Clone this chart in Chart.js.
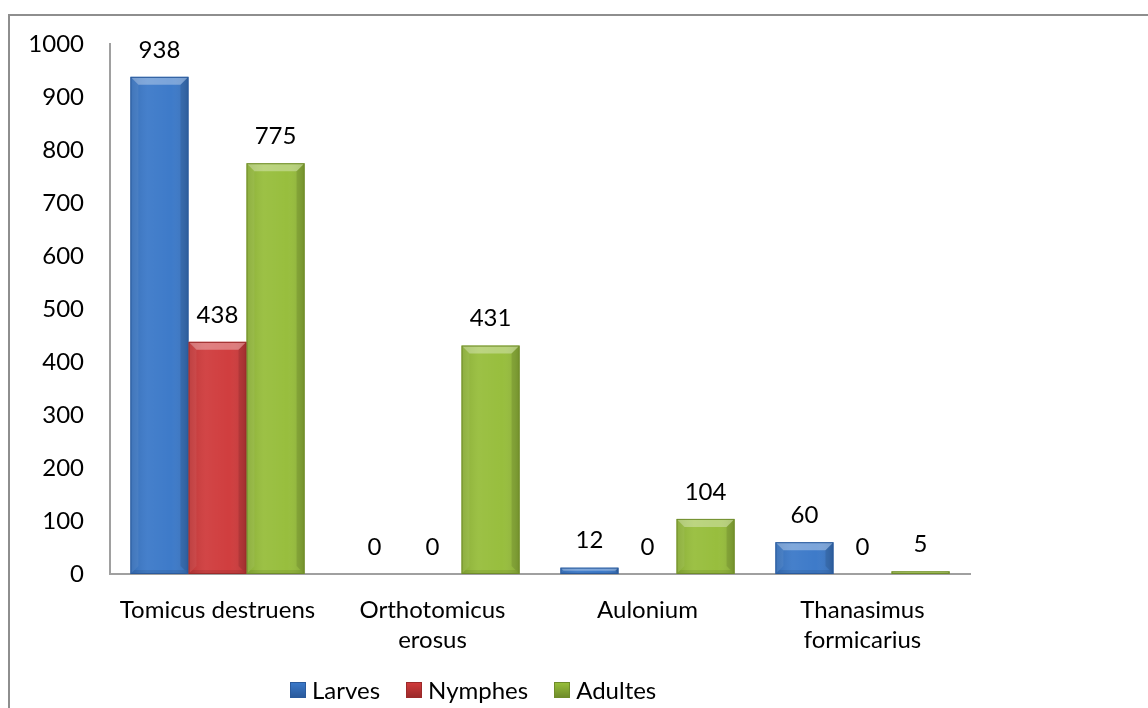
<!DOCTYPE html>
<html>
<head>
<meta charset="utf-8">
<script src="https://cdn.jsdelivr.net/npm/chart.js@4.4.1/dist/chart.umd.min.js"></script>
<style>
  html, body { margin: 0; padding: 0; background: #fff; overflow: hidden; }
  #frame { position: absolute; left: 8px; top: 14px; width: 1300px; height: 800px;
           border-left: 2px solid #8e8e8e; border-top: 2px solid #8e8e8e; }
  #wrap { position: absolute; left: 0; top: 0; width: 1148px; height: 708px; }
  #legend { position: absolute; left: 290px; top: 675px; display: flex; align-items: center;
            font-family: Lato, "Open Sans", sans-serif; font-size: 24px; color: #000; }
  #legend .item { display: flex; align-items: center; margin-right: 26px; }
  #legend .box { width: 16px; height: 16px; margin-right: 6px; box-sizing: border-box; }
</style>
</head>
<body>
<div id="frame"></div>
<div id="wrap"><canvas id="c" width="1148" height="708"></canvas></div>
<div id="legend"></div>
<script>
// Species (x categories) and counts per development stage
const categories = [["Tomicus destruens"], ["Orthotomicus", "erosus"], ["Aulonium"], ["Thanasimus", "formicarius"]];
const seriesNames = ["Larves", "Nymphes", "Adultes"];
const larves  = [938, 0, 12, 60];
const nymphes = [438, 0, 0, 0];
const adultes = [775, 431, 104, 5];
const yTicks = [0, 100, 200, 300, 400, 500, 600, 700, 800, 900, 1000];

const colors = ["#3a78c8", "#cf3a3b", "#96bd3a"];
const edgeColors = ["#2a5a9c", "#9c2a2a", "#6f8c2a"];
const FONT = "Lato, 'Open Sans', sans-serif";
const FONT_SIZE = 24;

// Bevelled look for each bar, drawn over the flat fill
const bevelPlugin = {
  id: 'bevel',
  afterDatasetsDraw(chart) {
    const ctx = chart.ctx;
    chart.data.datasets.forEach((ds, di) => {
      const meta = chart.getDatasetMeta(di);
      meta.data.forEach(el => {
        const L = el.x - el.width / 2, R = el.x + el.width / 2;
        const T = Math.min(el.y, el.base), B = Math.max(el.y, el.base);
        const h = B - T;
        if (h < 0.5) return;
        const b = Math.min(8, h / 2, el.width / 4);
        ctx.save();
        // soft sheen across the bar width
        const g = ctx.createLinearGradient(L, 0, R, 0);
        g.addColorStop(0, 'rgba(0,0,0,0.10)');
        g.addColorStop(0.3, 'rgba(255,255,255,0.06)');
        g.addColorStop(0.7, 'rgba(255,255,255,0.02)');
        g.addColorStop(1, 'rgba(0,0,0,0.14)');
        ctx.fillStyle = g;
        ctx.fillRect(L, T, R - L, h);
        const poly = (pts, fill) => {
          ctx.beginPath();
          ctx.moveTo(pts[0][0], pts[0][1]);
          for (let i = 1; i < pts.length; i++) ctx.lineTo(pts[i][0], pts[i][1]);
          ctx.closePath();
          ctx.fillStyle = fill;
          ctx.fill();
        };
        poly([[L, T], [R, T], [R - b, T + b], [L + b, T + b]], 'rgba(255,255,255,0.32)');
        poly([[L, T], [L + b, T + b], [L + b, B - b], [L, B]], 'rgba(255,255,255,0.06)');
        poly([[R, T], [R, B], [R - b, B - b], [R - b, T + b]], 'rgba(0,0,0,0.10)');
        poly([[L, B], [L + b / 2, B - b / 2], [R - b / 2, B - b / 2], [R, B]], 'rgba(0,0,0,0.08)');
        ctx.strokeStyle = edgeColors[di];
        ctx.lineWidth = 1;
        ctx.strokeRect(L + 0.5, T + 0.5, R - L - 1, Math.max(h - 1, 0));
        ctx.restore();
      });
    });
  }
};

// Value labels above each bar
const valueLabels = {
  id: 'valueLabels',
  afterDatasetsDraw(chart) {
    const ctx = chart.ctx;
    ctx.save();
    ctx.font = FONT_SIZE + "px " + FONT;
    ctx.fillStyle = '#000';
    ctx.textAlign = 'center';
    ctx.textBaseline = 'middle';
    chart.data.datasets.forEach((ds, di) => {
      chart.getDatasetMeta(di).data.forEach((el, i) => {
        ctx.fillText(String(ds.data[i]), el.x, el.y - 27);
      });
    });
    ctx.restore();
  }
};

const seriesData = [larves, nymphes, adultes];

new Chart(document.getElementById('c'), {
  type: 'bar',
  data: {
    labels: categories,
    datasets: seriesNames.map((name, i) => ({
      label: name,
      data: seriesData[i],
      backgroundColor: colors[i],
      borderWidth: 0,
      categoryPercentage: 0.81,
      barPercentage: 1.0
    }))
  },
  options: {
    responsive: false,
    animation: false,
    layout: { padding: { left: 0, top: 44, right: 178, bottom: 0 } },
    plugins: { legend: { display: false }, tooltip: { enabled: false } },
    scales: {
      x: {
        grid: { display: false, drawTicks: false },
        border: { display: true, color: '#a0a0a0', width: 2 },
        ticks: { color: '#000', font: { family: FONT, size: FONT_SIZE, lineHeight: 1.25 }, padding: 21, maxRotation: 0, autoSkip: false },
        afterFit(scale) { scale.height = 134; }
      },
      y: {
        min: 0, max: 1000,
        afterBuildTicks(scale) { scale.ticks = yTicks.map(v => ({ value: v })); },
        grid: { display: false, drawTicks: false },
        border: { display: true, color: '#a0a0a0', width: 2 },
        ticks: { color: '#000', font: { family: FONT, size: FONT_SIZE }, padding: 26, callback: v => String(v) },
        afterFit(scale) { scale.width = 110; }
      }
    }
  },
  plugins: [bevelPlugin, valueLabels]
});

// Legend
const legend = document.getElementById('legend');
seriesNames.forEach((name, i) => {
  const item = document.createElement('div');
  item.className = 'item';
  const box = document.createElement('div');
  box.className = 'box';
  box.style.background = 'linear-gradient(' + colors[i] + ',' + edgeColors[i] + ')';
  box.style.border = '1px solid ' + edgeColors[i];
  const txt = document.createElement('span');
  txt.textContent = name;
  item.appendChild(box);
  item.appendChild(txt);
  legend.appendChild(item);
});
</script>
</body>
</html>
